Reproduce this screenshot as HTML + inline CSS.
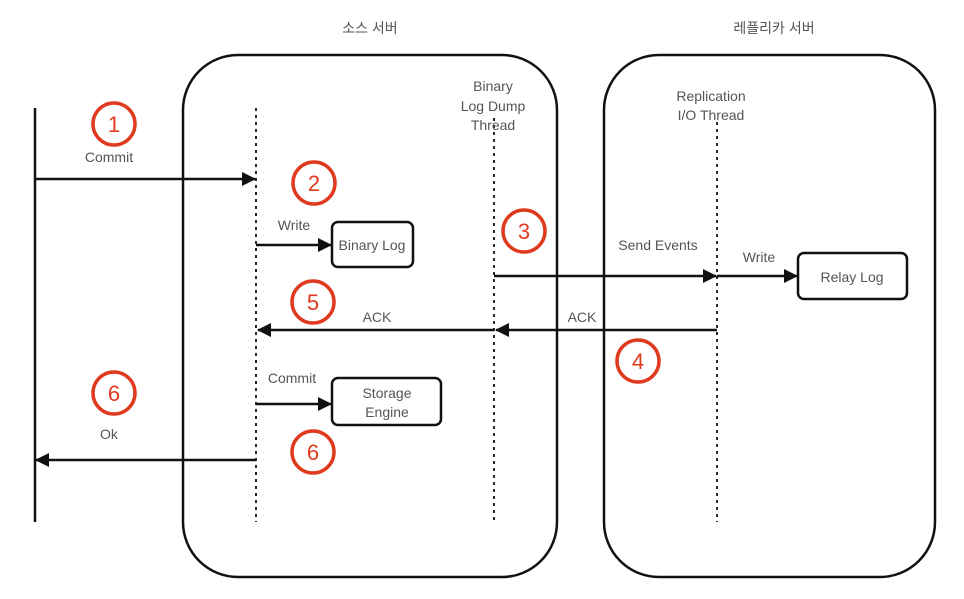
<!DOCTYPE html>
<html><head><meta charset="utf-8"><style>
body{margin:0;background:#fff}
text{font-family:"Liberation Sans","Noto Sans CJK KR",sans-serif;fill:#555;font-size:14px}
.c{fill:none;stroke:#e03a1e;stroke-width:3.5}
.n{fill:#e03a1e;font-size:22px}
</style></head><body>
<svg width="964" height="594" xmlns="http://www.w3.org/2000/svg">
<defs><marker id="a" markerWidth="14" markerHeight="14" refX="13" refY="7" orient="auto" markerUnits="userSpaceOnUse"><path d="M0,0 L14,7 L0,14 z" fill="#111"/></marker></defs>
<g stroke="#111" stroke-width="2.5" fill="none">
<rect x="183" y="55" width="374" height="522" rx="55"/>
<rect x="604" y="55" width="331" height="522" rx="55"/>
<line x1="35" y1="108" x2="35" y2="522"/>
<g stroke-dasharray="3,4" stroke-width="1.8">
<line x1="256" y1="108" x2="256" y2="522"/>
<line x1="494" y1="118" x2="494" y2="522"/>
<line x1="717" y1="122" x2="717" y2="522"/>
</g>
<line x1="35" y1="179" x2="255" y2="179" marker-end="url(#a)"/>
<line x1="256" y1="245" x2="331" y2="245" marker-end="url(#a)"/>
<line x1="494" y1="276" x2="716" y2="276" marker-end="url(#a)"/>
<line x1="717" y1="276" x2="797" y2="276" marker-end="url(#a)"/>
<line x1="717" y1="330" x2="496" y2="330" marker-end="url(#a)"/>
<line x1="494" y1="330" x2="258" y2="330" marker-end="url(#a)"/>
<line x1="256" y1="404" x2="331" y2="404" marker-end="url(#a)"/>
<line x1="256" y1="460" x2="36" y2="460" marker-end="url(#a)"/>
<rect x="332" y="222" width="81" height="45" rx="6"/>
<rect x="798" y="253" width="109" height="46" rx="6"/>
<rect x="332" y="378" width="109" height="47" rx="6"/>
</g>
<text x="370" y="33" text-anchor="middle">소스 서버</text>
<text x="774" y="33" text-anchor="middle">레플리카 서버</text>
<text x="493" y="91" text-anchor="middle">Binary</text>
<text x="493" y="111" text-anchor="middle">Log Dump</text>
<text x="493" y="130" text-anchor="middle">Thread</text>
<text x="711" y="101" text-anchor="middle">Replication</text>
<text x="711" y="120" text-anchor="middle">I/O Thread</text>
<text x="109" y="162" text-anchor="middle">Commit</text>
<text x="294" y="230" text-anchor="middle">Write</text>
<text x="372" y="250" text-anchor="middle">Binary Log</text>
<text x="658" y="250" text-anchor="middle">Send Events</text>
<text x="759" y="262" text-anchor="middle">Write</text>
<text x="852" y="282" text-anchor="middle">Relay Log</text>
<text x="377" y="322" text-anchor="middle">ACK</text>
<text x="582" y="322" text-anchor="middle">ACK</text>
<text x="292" y="383" text-anchor="middle">Commit</text>
<text x="387" y="398" text-anchor="middle">Storage</text>
<text x="387" y="417" text-anchor="middle">Engine</text>
<text x="109" y="439" text-anchor="middle">Ok</text>
<g>
<circle class="c" cx="114" cy="124" r="21"/><text class="n" x="114" y="132" text-anchor="middle">1</text>
<circle class="c" cx="314" cy="183" r="21"/><text class="n" x="314" y="191" text-anchor="middle">2</text>
<circle class="c" cx="524" cy="231" r="21"/><text class="n" x="524" y="239" text-anchor="middle">3</text>
<circle class="c" cx="313" cy="302" r="21"/><text class="n" x="313" y="310" text-anchor="middle">5</text>
<circle class="c" cx="638" cy="361" r="21"/><text class="n" x="638" y="369" text-anchor="middle">4</text>
<circle class="c" cx="114" cy="393" r="21"/><text class="n" x="114" y="401" text-anchor="middle">6</text>
<circle class="c" cx="313" cy="452" r="21"/><text class="n" x="313" y="460" text-anchor="middle">6</text>
</g>
</svg>
</body></html>
